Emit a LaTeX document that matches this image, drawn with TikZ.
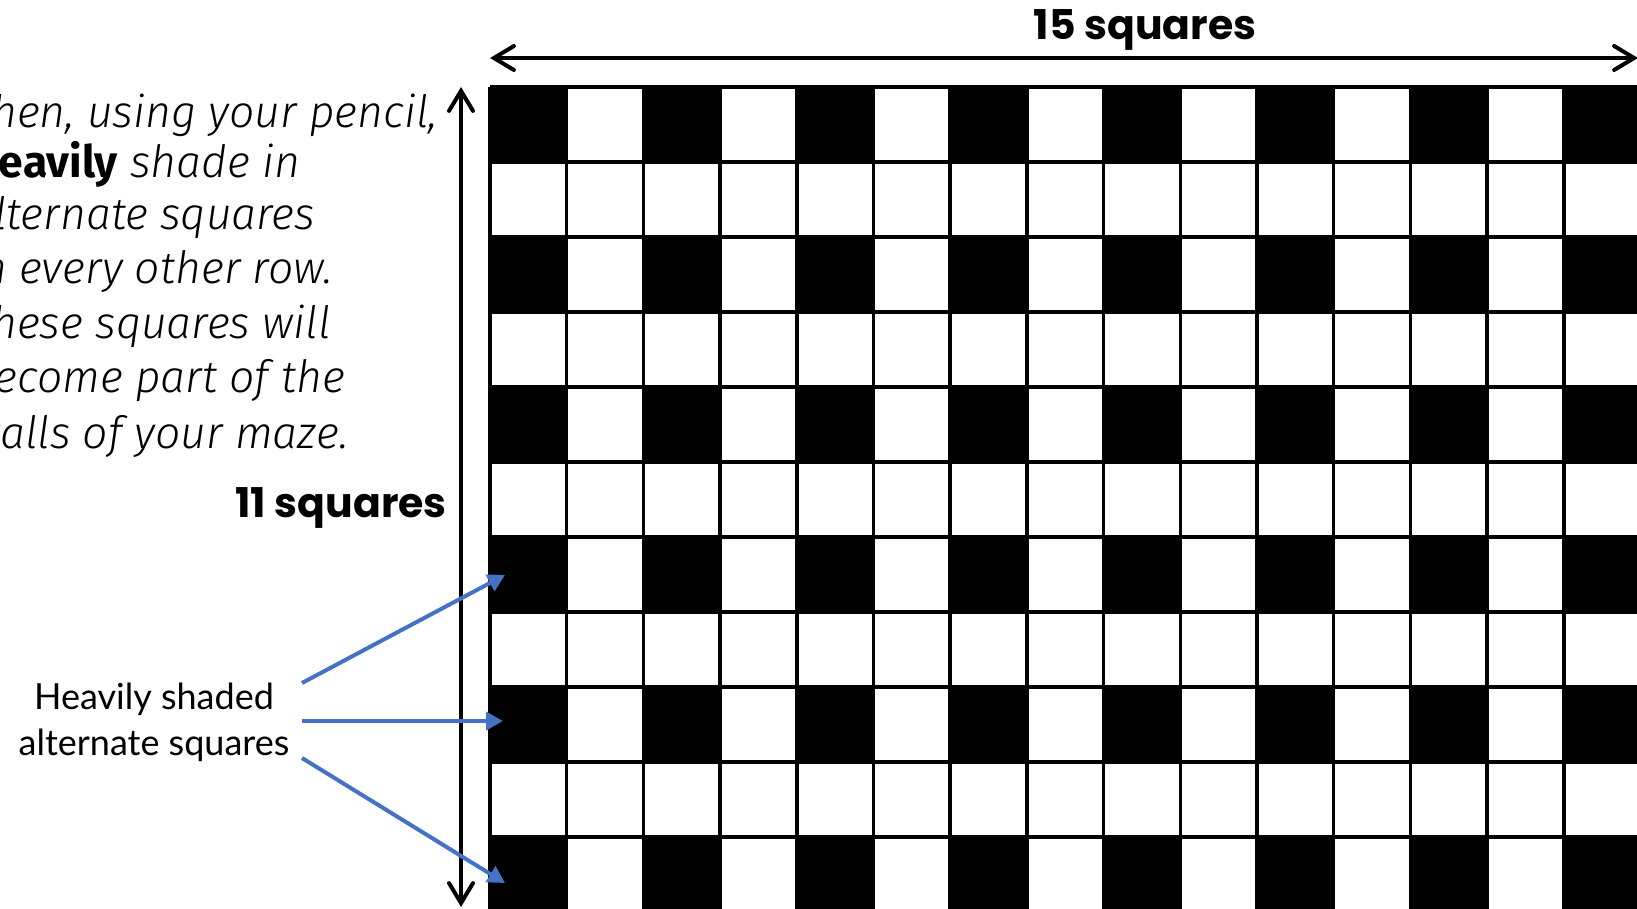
\documentclass[tikz,border=0pt]{standalone}
\usepackage{fontspec}
\usetikzlibrary{arrows.meta}
\newfontfamily\handfont{Fira Sans Light Italic}
\newfontfamily\handbold{Fira Sans Bold}
\newfontfamily\labelfont{Lato}
\newfontfamily\headfont{Poppins Bold}
\definecolor{arrowblue}{HTML}{4472C4}
\tikzset{
  gridline/.style={line width=3.5pt, black},
  dimarrow/.style={line width=4pt, black, {Straight Barb[length=20pt,width=24pt,line cap=round]}-{Straight Barb[length=20pt,width=24pt,line cap=round]}},
  bluearrow/.style={line width=4pt, arrowblue, -{Triangle[length=17pt,width=18pt]}},
  handtext/.style={anchor=base west, inner sep=0pt, font=\fontsize{44.5}{53}\handfont},
  labeltext/.style={anchor=base, inner sep=0pt, font=\fontsize{36}{46}\labelfont},
  headtext/.style={inner sep=0pt, font=\fontsize{41}{50}\headfont},
}
\begin{document}
\begin{tikzpicture}[x=1pt,y=-1pt]
\useasboundingbox (0,0) rectangle (1637,909);
% grid
\foreach \r in {0,2,...,10}
  \foreach \c in {0,2,...,14}
    \fill[black] ({490+76.7*\c},{87+75*\r}) rectangle ++(76.7,75);
\foreach \c in {0,...,15}
  \draw[gridline] ({490+76.7*\c},87) -- ({490+76.7*\c},{87+75*11});
\foreach \r in {0,...,11}
  \draw[gridline] (490,{87+75*\r}) -- (1645,{87+75*\r});
% dimension arrows
\coordinate (hl) at (490,58);
\coordinate (hr) at (1638,58);
\draw[dimarrow] (hl) -- (hr);
\coordinate (vt) at (461,87);
\coordinate (vb) at (461,907);
\draw[dimarrow] (vt) -- (vb);
\node[headtext, anchor=base] (w15) at (1145,40) {15 squares};
\node[headtext, anchor=base east] (h11) at (447,517) {11 squares};
% instruction text
\node[handtext] (t1) at (-31,128) {Then, using your pencil,};
\node[handtext] (t2) at (-31,178) {{\handbold Heavily} shade in};
\node[handtext] (t3) at (-31,230) {alternate squares};
\node[handtext] (t4) at (-31,283) {in every other row.};
\node[handtext] (t5) at (-31,338) {These squares will};
\node[handtext] (t6) at (-31,392) {become part of the};
\node[handtext] (t7) at (-31,448) {walls of your maze.};
% label and blue arrows
\node[labeltext] (l1) at (154,709) {Heavily shaded};
\node[labeltext] (l2) at (154,755) {alternate squares};
\coordinate (s1) at (302,683);
\coordinate (s2) at (302,721);
\coordinate (s3) at (302,758);
\coordinate (e1) at (505,575);
\coordinate (e2) at (503,721);
\coordinate (e3) at (505,883);
\draw[bluearrow] (s1) -- (e1);
\draw[bluearrow] (s2) -- (e2);
\draw[bluearrow] (s3) -- (e3);
\end{tikzpicture}
\end{document}
